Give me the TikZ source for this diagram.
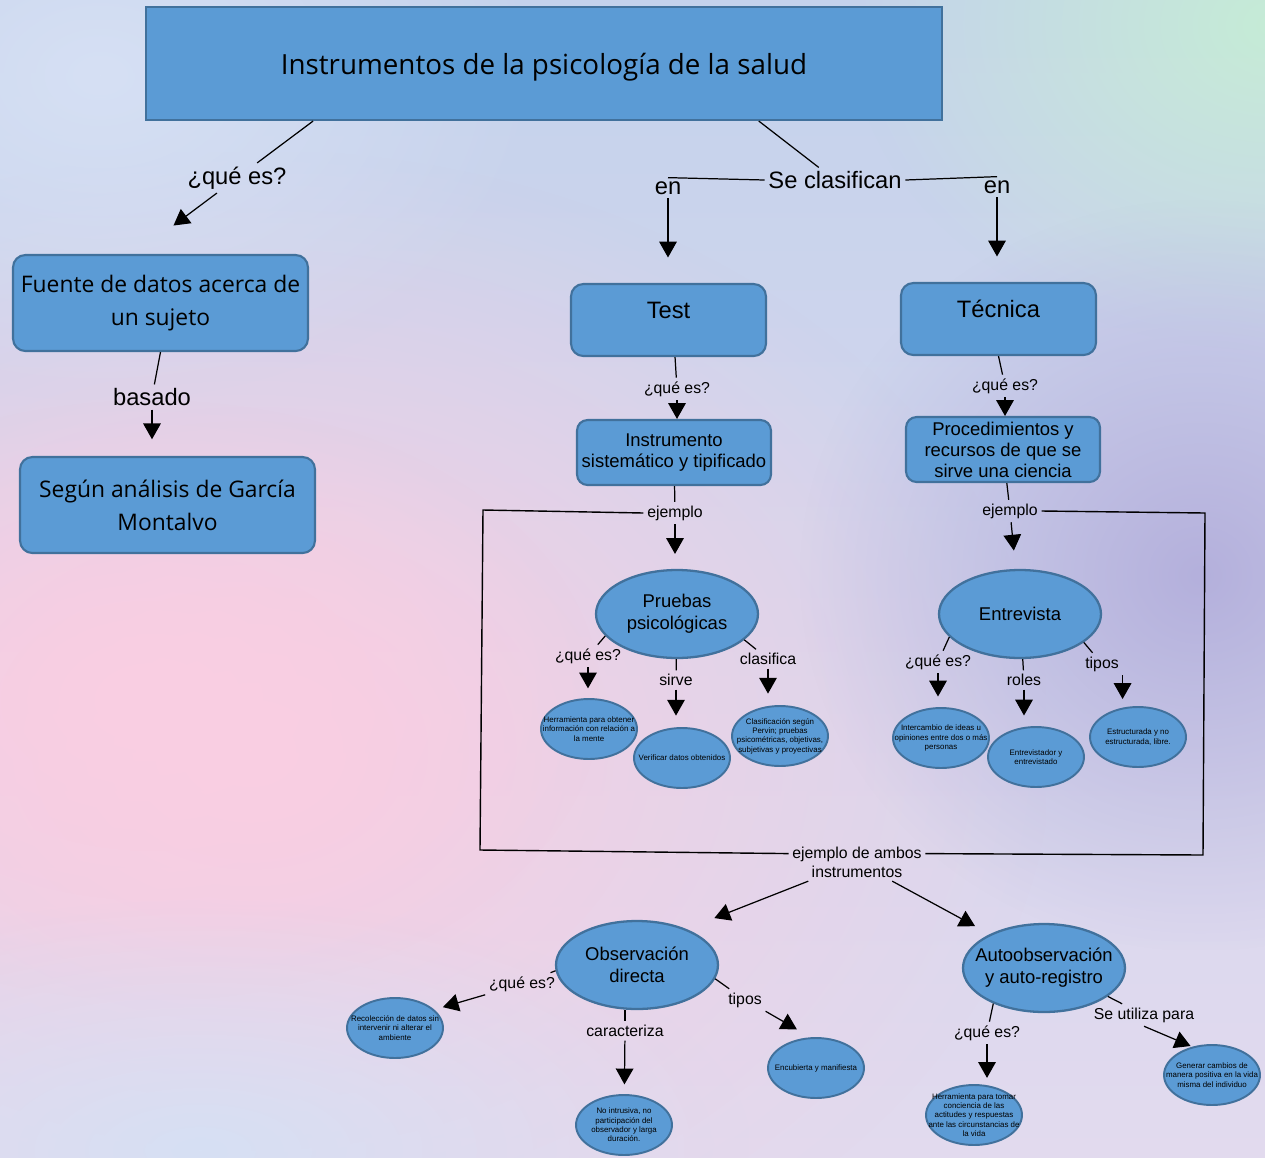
\documentclass[tikz,border=0pt]{standalone}
\usepackage{fontspec}
\setmainfont{Liberation Sans}
\newfontfamily\titlefont{Open Sans}
\usetikzlibrary{arrows.meta,shapes.geometric,fadings}

\definecolor{boxfill}{RGB}{91,155,213}
\definecolor{boxline}{RGB}{65,113,156}
\definecolor{bgtop}{RGB}{196,210,236}
\definecolor{bgmid}{RGB}{204,194,228}
\definecolor{bgbot}{RGB}{226,218,238}
\definecolor{bgpink}{RGB}{250,206,226}
\definecolor{bgmint}{RGB}{198,236,214}
\definecolor{bglila}{RGB}{180,176,220}
\definecolor{bgsky}{RGB}{214,224,244}

\tikzfading[name=blob, inner color=transparent!0, outer color=transparent!100]

\tikzset{
  titlebox/.style={draw=boxline, fill=boxfill, line width=1.2pt, minimum width=15.92cm, minimum height=2.26cm, text height=16.6pt, font=\titlefont\fontsize{15.8}{19}\selectfont},
  sidebox/.style={draw=boxline, fill=boxfill, line width=1.2pt, rounded corners=7pt, align=center, minimum width=5.9cm, minimum height=1.92cm, inner sep=2pt, font=\titlefont\fontsize{13}{18.8}\selectfont},
  headbox/.style={draw=boxline, fill=boxfill, line width=1.2pt, rounded corners=7pt, minimum width=3.9cm, minimum height=1.44cm, text depth=11.4pt, font=\fontsize{13.5}{16}\selectfont},
  midbox/.style={draw=boxline, fill=boxfill, line width=1.2pt, rounded corners=6pt, align=center, minimum width=3.88cm, minimum height=1.3cm, inner sep=1pt, font=\fontsize{10.5}{11.9}\selectfont},
  oval/.style={ellipse, draw=boxline, fill=boxfill, line width=1.3pt, minimum width=3.24cm, minimum height=1.76cm, inner sep=0pt},
  ovaltext/.style={align=center, inner sep=0pt, font=\fontsize{10.5}{12.5}\selectfont},
  leaf/.style={ellipse, draw=boxline, fill=boxfill, line width=1.1pt, minimum width=1.92cm, minimum height=1.2cm, inner sep=0pt},
  leaftext/.style={align=center, inner sep=0pt, font=\fontsize{4.5}{5.3}\selectfont},
  biglbl/.style={inner sep=2pt, font=\fontsize{13.5}{16}\selectfont},
  lbl/.style={inner sep=2pt, align=center, font=\fontsize{9}{10.8}\selectfont},
  link/.style={line width=0.7pt},
  frame/.style={line width=0.8pt},
  arr/.style={line width=0.7pt, -{Triangle[length=9pt,width=10pt]}}
}

\begin{document}
\begin{tikzpicture}[x=0.02cm, y=-0.02cm]
\useasboundingbox (0,0) rectangle (1265,1157);
\fill[top color=bgtop, middle color=bgmid, bottom color=bgbot] (0,0) rectangle (1265,1157);
\fill[bgpink, path fading=blob] (-550,150) rectangle (1050,1350);
\fill[bgpink, path fading=blob] (-300,400) rectangle (600,1000);
\fill[bgmint, path fading=blob] (850,-300) rectangle (1700,350);
\fill[bglila, path fading=blob] (800,200) rectangle (1600,950);
\fill[bgsky, path fading=blob] (-350,-250) rectangle (550,400);
\fill[bgsky, path fading=blob] (-350,900) rectangle (750,1400);

% boxes
\node[titlebox] (title) at (544,63.5) {Instrumentos de la psicología de la salud};
\node[sidebox] (fuente) at (160.5,303) {Fuente de datos acerca de\\un sujeto};
\node[sidebox] (segun) at (167.5,505) {Según análisis de García\\Montalvo};
\node[headbox] (test) at (668.5,320) {Test};
\node[headbox] (tecn) at (998.5,319) {Técnica};
\node[midbox] (instr) at (674,452.5) {Instrumento\\sistemático y tipificado};
\node[midbox] (proc) at (1003,449.5) {Procedimientos y\\recursos de que se\\sirve una ciencia};

% ovals
\node[oval, label={[ovaltext]center:{Pruebas\\psicológicas}}] (prueb) at (677,614) {};
\node[oval, label={[ovaltext]center:Entrevista}] (entrev) at (1020,614) {};
\node[oval, label={[ovaltext]center:{Observación\\directa}}] (obs) at (637,965) {};
\node[oval, label={[ovaltext]center:{Autoobservación\\y auto-registro}}] (auto) at (1044,968) {};

\node[leaf, label={[leaftext]center:{Herramienta para obtener\\información con relación a\\la mente}}] (herr) at (589,729) {};
\node[leaf, label={[leaftext]center:Verificar datos obtenidos}] (verif) at (682,758) {};
\node[leaf, label={[leaftext]center:{Clasificación según\\Pervin; pruebas\\psicométricas, objetivas,\\subjetivas y proyectivas}}] (clas) at (780,736) {};
\node[leaf, label={[leaftext]center:{Intercambio de ideas u\\opiniones entre dos o más\\personas}}] (interc) at (941,738) {};
\node[leaf, label={[leaftext]center:{Entrevistador y\\entrevistado}}] (roles2) at (1036,757) {};
\node[leaf, label={[leaftext]center:{Estructurada y no\\estructurada, libre.}}] (estruc) at (1138,737) {};
\node[leaf, label={[leaftext]center:{Recolección de datos sin\\intervenir ni alterar el\\ambiente}}] (recol) at (395,1028) {};
\node[leaf, label={[leaftext]center:{No intrusiva, no\\participación del\\observador y larga\\duración.}}] (nointr) at (624,1125) {};
\node[leaf, label={[leaftext]center:Encubierta y manifiesta}] (encub) at (816,1068) {};
\node[leaf, label={[leaftext]center:{Herramienta para tomar\\conciencia de las\\actitudes y respuestas\\ante las circunstancias de\\la vida}}] (htom) at (974,1115) {};
\node[leaf, label={[leaftext]center:{Generar cambios de\\manera positiva en la vida\\misma del individuo}}] (gener) at (1212,1075) {};

% labels
\node[biglbl] (qtop) at (237,178) {¿qué es?};
\node[biglbl] (basado) at (152,397) {basado};
\node[biglbl] (clasif) at (835,180) {Se clasifican};
\node[biglbl] (en1) at (668,188) {en};
\node[biglbl] (en2) at (997,187) {en};
\node[lbl] (qtest) at (677,389) {¿qué es?};
\node[lbl] (qtec) at (1005,386) {¿qué es?};
\node[lbl] (ej1) at (675,513) {ejemplo};
\node[lbl] (ej2) at (1010,511) {ejemplo};
\node[lbl] (qpr) at (588,656) {¿qué es?};
\node[lbl] (sirve) at (676,680) {sirve};
\node[lbl] (clfa) at (768,659) {clasifica};
\node[lbl] (qen) at (938,662) {¿qué es?};
\node[lbl] (roles) at (1024,680) {roles};
\node[lbl] (tipos) at (1102,664) {tipos};
\node[lbl] (ambos) at (857,862) {ejemplo de ambos\\instrumentos};
\node[lbl] (qobs) at (522,984) {¿qué es?};
\node[lbl] (carac) at (625,1031) {caracteriza};
\node[lbl] (tiposo) at (745,1000) {tipos};
\node[lbl] (qauto) at (987,1033) {¿qué es?};
\node[lbl] (utiliza) at (1144,1015) {Se utiliza para};

\coordinate (bl1) at (483,510);
\coordinate (bl2) at (480,850);
\coordinate (br1) at (1205,513);
\coordinate (br2) at (1203,855);

% connectors
\draw[link] (title.194) -- (qtop);
\draw[arr, shorten >=27pt] (qtop) -- (fuente.117);
\draw[link] (fuente.south) -- (basado);
\draw[arr, shorten >=9.5pt] (basado) -- (basado |- segun.north);
\draw[link] (title.-15.2) -- (clasif);
\draw[link] (clasif.west) -- (en1.north);
\draw[link] (clasif.east) -- (en2.north);
\draw[arr, shorten >=14.5pt] (en1) -- (en1 |- test.north);
\draw[arr, shorten >=14.5pt] (en2) -- (en2 |- tecn.north);

\draw[link] (test.-80) -- (qtest);
\draw[arr] (qtest) -- (qtest |- instr.north);
\draw[link] (tecn.south) -- (qtec);
\draw[arr] (qtec) -- (qtec |- proc.north);
\draw[link] (instr) -- (ej1);
\draw[arr, shorten >=8.5pt] (ej1) -- (ej1 |- prueb.north);
\draw[link] (proc) -- (ej2);
\draw[arr, shorten >=10.5pt] (ej2) -- (entrev);

\draw[frame] (ej1.west) -- (bl1) -- (bl2) -- (ambos.173);
\draw[frame] (ej2.east) -- (br1) -- (br2) -- (ambos.7);

\draw[link] (prueb.197) -- (qpr);
\draw[arr, shorten >=5.5pt] (qpr) -- (qpr |- herr.north);
\draw[link] (prueb) -- (sirve);
\draw[arr, shorten >=6.5pt] (sirve) -- (sirve |- verif.north);
\draw[link] (prueb.-21) -- (clfa);
\draw[arr, shorten >=6.5pt] (clfa) -- (clfa |- clas.north);

\draw[link] (entrev.198) -- (qen);
\draw[arr, shorten >=6pt] (qen) -- (qen |- interc.north);
\draw[link] (entrev) -- (roles);
\draw[arr, shorten >=6pt] (roles) -- (roles |- roles2.north);
\draw[link] (entrev.-24) -- (tipos);
\draw[arr, shorten >=4pt] (tipos.south east) -- (tipos.south east |- estruc.north);

\draw[arr, shorten >=17pt] (ambos) -- (obs.36);
\draw[arr, shorten >=9.5pt] (ambos) -- (auto.148);

\draw[link] (obs.184) -- (qobs);
\draw[arr, shorten >=5pt] (qobs) -- (recol.25);
\draw[link] (carac |- obs.south) -- (carac);
\draw[arr, shorten >=5.5pt] (carac) -- (nointr);
\draw[link] (obs.-10) -- (tiposo);
\draw[arr, shorten >=9pt] (tiposo.south east) -- (encub.100);

\draw[link] (auto.215) -- (qauto);
\draw[arr, shorten >=3.5pt] (qauto) -- (qauto |- htom.north);
\draw[link] (auto.-24) -- (utiliza);
\draw[arr, shorten >=1pt] (utiliza.south) -- (gener.125);
\end{tikzpicture}
\end{document}
